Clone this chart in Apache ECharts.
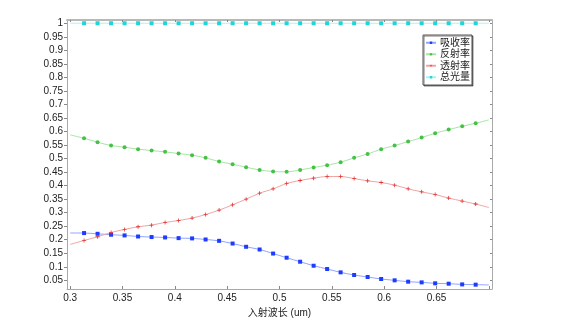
<!DOCTYPE html>
<html>
<head>
<meta charset="utf-8">
<script src="https://cdn.jsdelivr.net/npm/echarts@6/dist/echarts.min.js"></script>
<style>
html,body{margin:0;padding:0;background:#fff;}
#chart{width:570px;height:327px;}
</style>
</head>
<body>
<div id="chart"></div>
<script>
// Wavelength (um) — first and last are line ends, the rest carry markers
const wavelengths = [0.3, 0.3133, 0.3262, 0.3391, 0.3520, 0.3649, 0.3778, 0.3907, 0.4036, 0.4165, 0.4294, 0.4423, 0.4552, 0.4681, 0.4810, 0.4939, 0.5068, 0.5197, 0.5326, 0.5455, 0.5584, 0.5713, 0.5842, 0.5971, 0.6100, 0.6229, 0.6358, 0.6487, 0.6616, 0.6745, 0.6874, 0.7];
const absorb = [0.225, 0.2247, 0.222, 0.2185, 0.216, 0.212, 0.210, 0.2085, 0.206, 0.205, 0.201, 0.196, 0.186, 0.174, 0.164, 0.149, 0.1336, 0.1188, 0.104, 0.092, 0.0795, 0.0697, 0.0623, 0.055, 0.05, 0.045, 0.0425, 0.039, 0.0376, 0.035, 0.034, 0.033];
const reflect = [0.5875, 0.575, 0.5605, 0.548, 0.542, 0.5347, 0.5296, 0.5247, 0.5185, 0.5125, 0.5026, 0.489, 0.479, 0.468, 0.458, 0.452, 0.451, 0.458, 0.467, 0.4755, 0.4866, 0.5026, 0.517, 0.5347, 0.548, 0.5627, 0.5775, 0.5937, 0.607, 0.6195, 0.6306, 0.643];
const transmit = [0.1827, 0.1974, 0.211, 0.227, 0.238, 0.248, 0.254, 0.264, 0.271, 0.280, 0.293, 0.3095, 0.329, 0.350, 0.372, 0.388, 0.408, 0.419, 0.4276, 0.4336, 0.4336, 0.426, 0.4177, 0.4115, 0.4018, 0.388, 0.377, 0.367, 0.354, 0.343, 0.332, 0.319];
const total = [1, 1, 1, 1, 1, 1, 1, 1, 1, 1, 1, 1, 1, 1, 1, 1, 1, 1, 1, 1, 1, 1, 1, 1, 1, 1, 1, 1, 1, 1, 1, 1];
const seriesNames = ['吸收率', '反射率', '透射率', '总光量'];
const xTickLabels = [0.3, 0.35, 0.4, 0.45, 0.5, 0.55, 0.6, 0.65];
const xTicks = [0.3, 0.35, 0.4, 0.45, 0.5, 0.55, 0.6, 0.65, 0.7];
const yTicks = [0.05, 0.1, 0.15, 0.2, 0.25, 0.3, 0.35, 0.4, 0.45, 0.5, 0.55, 0.6, 0.65, 0.7, 0.75, 0.8, 0.85, 0.9, 0.95, 1];
const xTitle = '入射波长 (um)';

const FONT = '"Liberation Sans", Arial, "Noto Sans CJK SC", sans-serif';
const axisGrey = '#a9a9a9';
const last = wavelengths.length - 1;

function mkData(ys) {
  return wavelengths.map((x, i) => {
    const item = { value: [x, ys[i]] };
    if (i === 0 || i === last) item.symbol = 'none';
    return item;
  });
}
function fmt(v) { return String(+v.toFixed(2)); }

const styles = [
  { line: '#8ea4ff', mark: '#1e3cff', symbol: 'rect', size: 4 },
  { line: '#a6e6a6', mark: '#46c046', symbol: 'circle', size: 4 },
  { line: '#f2a3a3', mark: '#e03636', symbol: 'path://M2,0h1v2h2v1h-2v2h-1v-2h-2v-1h2z', size: 4 },
  { line: '#a8f2f2', mark: '#1fd6d6', symbol: 'rect', size: 4 }
];
const datas = [absorb, reflect, transmit, total];

const chart = echarts.init(document.getElementById('chart'), null, { renderer: 'canvas' });
chart.setOption({
  animation: false,
  backgroundColor: '#ffffff',
  textStyle: { fontFamily: FONT },
  grid: { left: 67, right: 78, top: 20, bottom: 38, containLabel: false },
  legend: {
    data: seriesNames.map(n => ({ name: n, symbolSize: 3 })),
    orient: 'vertical',
    left: 423, top: 35,
    padding: [2, 2, 2, 2],
    itemGap: 0,
    itemWidth: 10, itemHeight: 3,
    borderColor: '#555', borderWidth: 1,
    backgroundColor: '#fff',
    shadowColor: 'rgba(0,0,0,0.5)', shadowOffsetX: 1, shadowOffsetY: 1, shadowBlur: 0,
    textStyle: { fontSize: 10, color: '#222', lineHeight: 11.5, fontFamily: FONT, padding: [0, 0, 0, -1] }
  },
  xAxis: [
    {
      type: 'value', min: 0.297, max: 0.703,
      name: xTitle, nameLocation: 'middle', nameGap: 11,
      nameTextStyle: { fontSize: 10, color: '#222', fontFamily: FONT },
      axisLine: { show: true, lineStyle: { color: axisGrey, width: 1 } },
      axisTick: { show: true, inside: true, length: 3, customValues: xTicks, lineStyle: { color: '#888' } },
      axisLabel: { customValues: xTickLabels, formatter: fmt, fontSize: 10, color: '#222', margin: 4, fontFamily: FONT },
      splitLine: { show: false }
    },
    {
      type: 'value', position: 'top', min: 0.297, max: 0.703,
      axisLine: { show: true, onZero: false, lineStyle: { color: '#b8b8b8', width: 2 } },
      axisTick: { show: true, inside: true, length: 2, customValues: xTicks, lineStyle: { color: '#888' } },
      axisLabel: { show: false },
      splitLine: { show: false }
    }
  ],
  yAxis: [
    {
      type: 'value', min: 0.018, max: 1.012,
      axisLine: { show: true, lineStyle: { color: axisGrey, width: 1 } },
      axisTick: { show: true, inside: false, length: 3, customValues: yTicks, lineStyle: { color: '#888' } },
      axisLabel: { customValues: yTicks, formatter: fmt, fontSize: 10, color: '#222', margin: 4, fontFamily: FONT },
      splitLine: { show: false }
    },
    {
      type: 'value', position: 'right', min: 0.018, max: 1.012,
      axisLine: { show: true, onZero: false, lineStyle: { color: axisGrey, width: 1 } },
      axisTick: { show: true, inside: true, length: 2, customValues: yTicks, lineStyle: { color: '#888' } },
      axisLabel: { show: false },
      splitLine: { show: false }
    }
  ],
  series: seriesNames.map((name, k) => ({
    name: name,
    type: 'line',
    xAxisIndex: 0, yAxisIndex: 0,
    data: mkData(datas[k]),
    smooth: 0.3,
    showAllSymbol: true,
    symbol: styles[k].symbol,
    symbolSize: styles[k].size,
    lineStyle: { color: styles[k].line, width: 1 },
    itemStyle: { color: styles[k].mark },
    emphasis: { disabled: true },
    z: 2 + (k === 3 ? 1 : 0)
  }))
});
</script>
</body>
</html>
